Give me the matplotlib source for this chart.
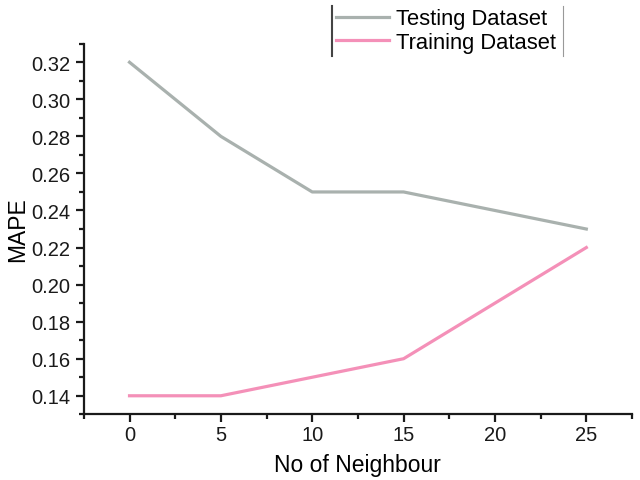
import matplotlib.pyplot as plt
from matplotlib.lines import Line2D
from matplotlib.ticker import MultipleLocator

plt.rcParams['font.family'] = ['Liberation Sans', 'DejaVu Sans']

neighbours = [0, 5, 10, 15, 20, 25]
testing = [0.32, 0.28, 0.25, 0.25, 0.24, 0.23]
training = [0.14, 0.14, 0.15, 0.16, 0.19, 0.22]

fig = plt.figure(figsize=(6.4, 4.81), dpi=100)
ax = fig.add_axes([0.131, 0.1366, 0.8565, 0.7704])

ax.plot(neighbours, testing, color='#a9b1ae', lw=2.3, label='Testing Dataset')
ax.plot(neighbours, training, color='#f490b8', lw=2.3, label='Training Dataset')

ax.set_xlim(-2.5, 27.5)
ax.set_ylim(0.13, 0.33)
ax.xaxis.set_major_locator(MultipleLocator(5))
ax.xaxis.set_minor_locator(MultipleLocator(2.5))
ax.yaxis.set_major_locator(MultipleLocator(0.02))
ax.yaxis.set_minor_locator(MultipleLocator(0.01))
ax.yaxis.set_major_formatter(plt.FormatStrFormatter('%.2f'))

for s in ['top', 'right']:
    ax.spines[s].set_visible(False)
for s in ['left', 'bottom']:
    ax.spines[s].set_linewidth(1.6)
    ax.spines[s].set_color('#1a1a1a')
ax.tick_params(which='major', direction='out', length=6, width=1.6, labelsize=14.5, colors='#1a1a1a')
ax.tick_params(which='minor', direction='out', length=3.5, width=1.6, colors='#1a1a1a')
ax.tick_params(axis='x', pad=2)
ax.tick_params(axis='y', pad=4)

ax.set_xlabel('No of Neighbour', fontsize=16.5, labelpad=6)
ax.set_ylabel('MAPE', fontsize=16.5, labelpad=1)

leg = fig.legend(loc='upper left', bbox_to_anchor=(333 / 640, 1 - 6 / 481),
                 frameon=False, fontsize=15.8, handlelength=2.4, handletextpad=0.3,
                 labelspacing=0.12, borderpad=0.15, borderaxespad=0)

fig.add_artist(Line2D([332 / 640, 332 / 640], [1 - 7 / 481, 1 - 57 / 481],
                      transform=fig.transFigure, color='#444444', lw=1.5))
fig.add_artist(Line2D([563 / 640, 563 / 640], [1 - 7 / 481, 1 - 57 / 481],
                      transform=fig.transFigure, color='#999999', lw=0.8))

fig.savefig('out.png', dpi=100)
